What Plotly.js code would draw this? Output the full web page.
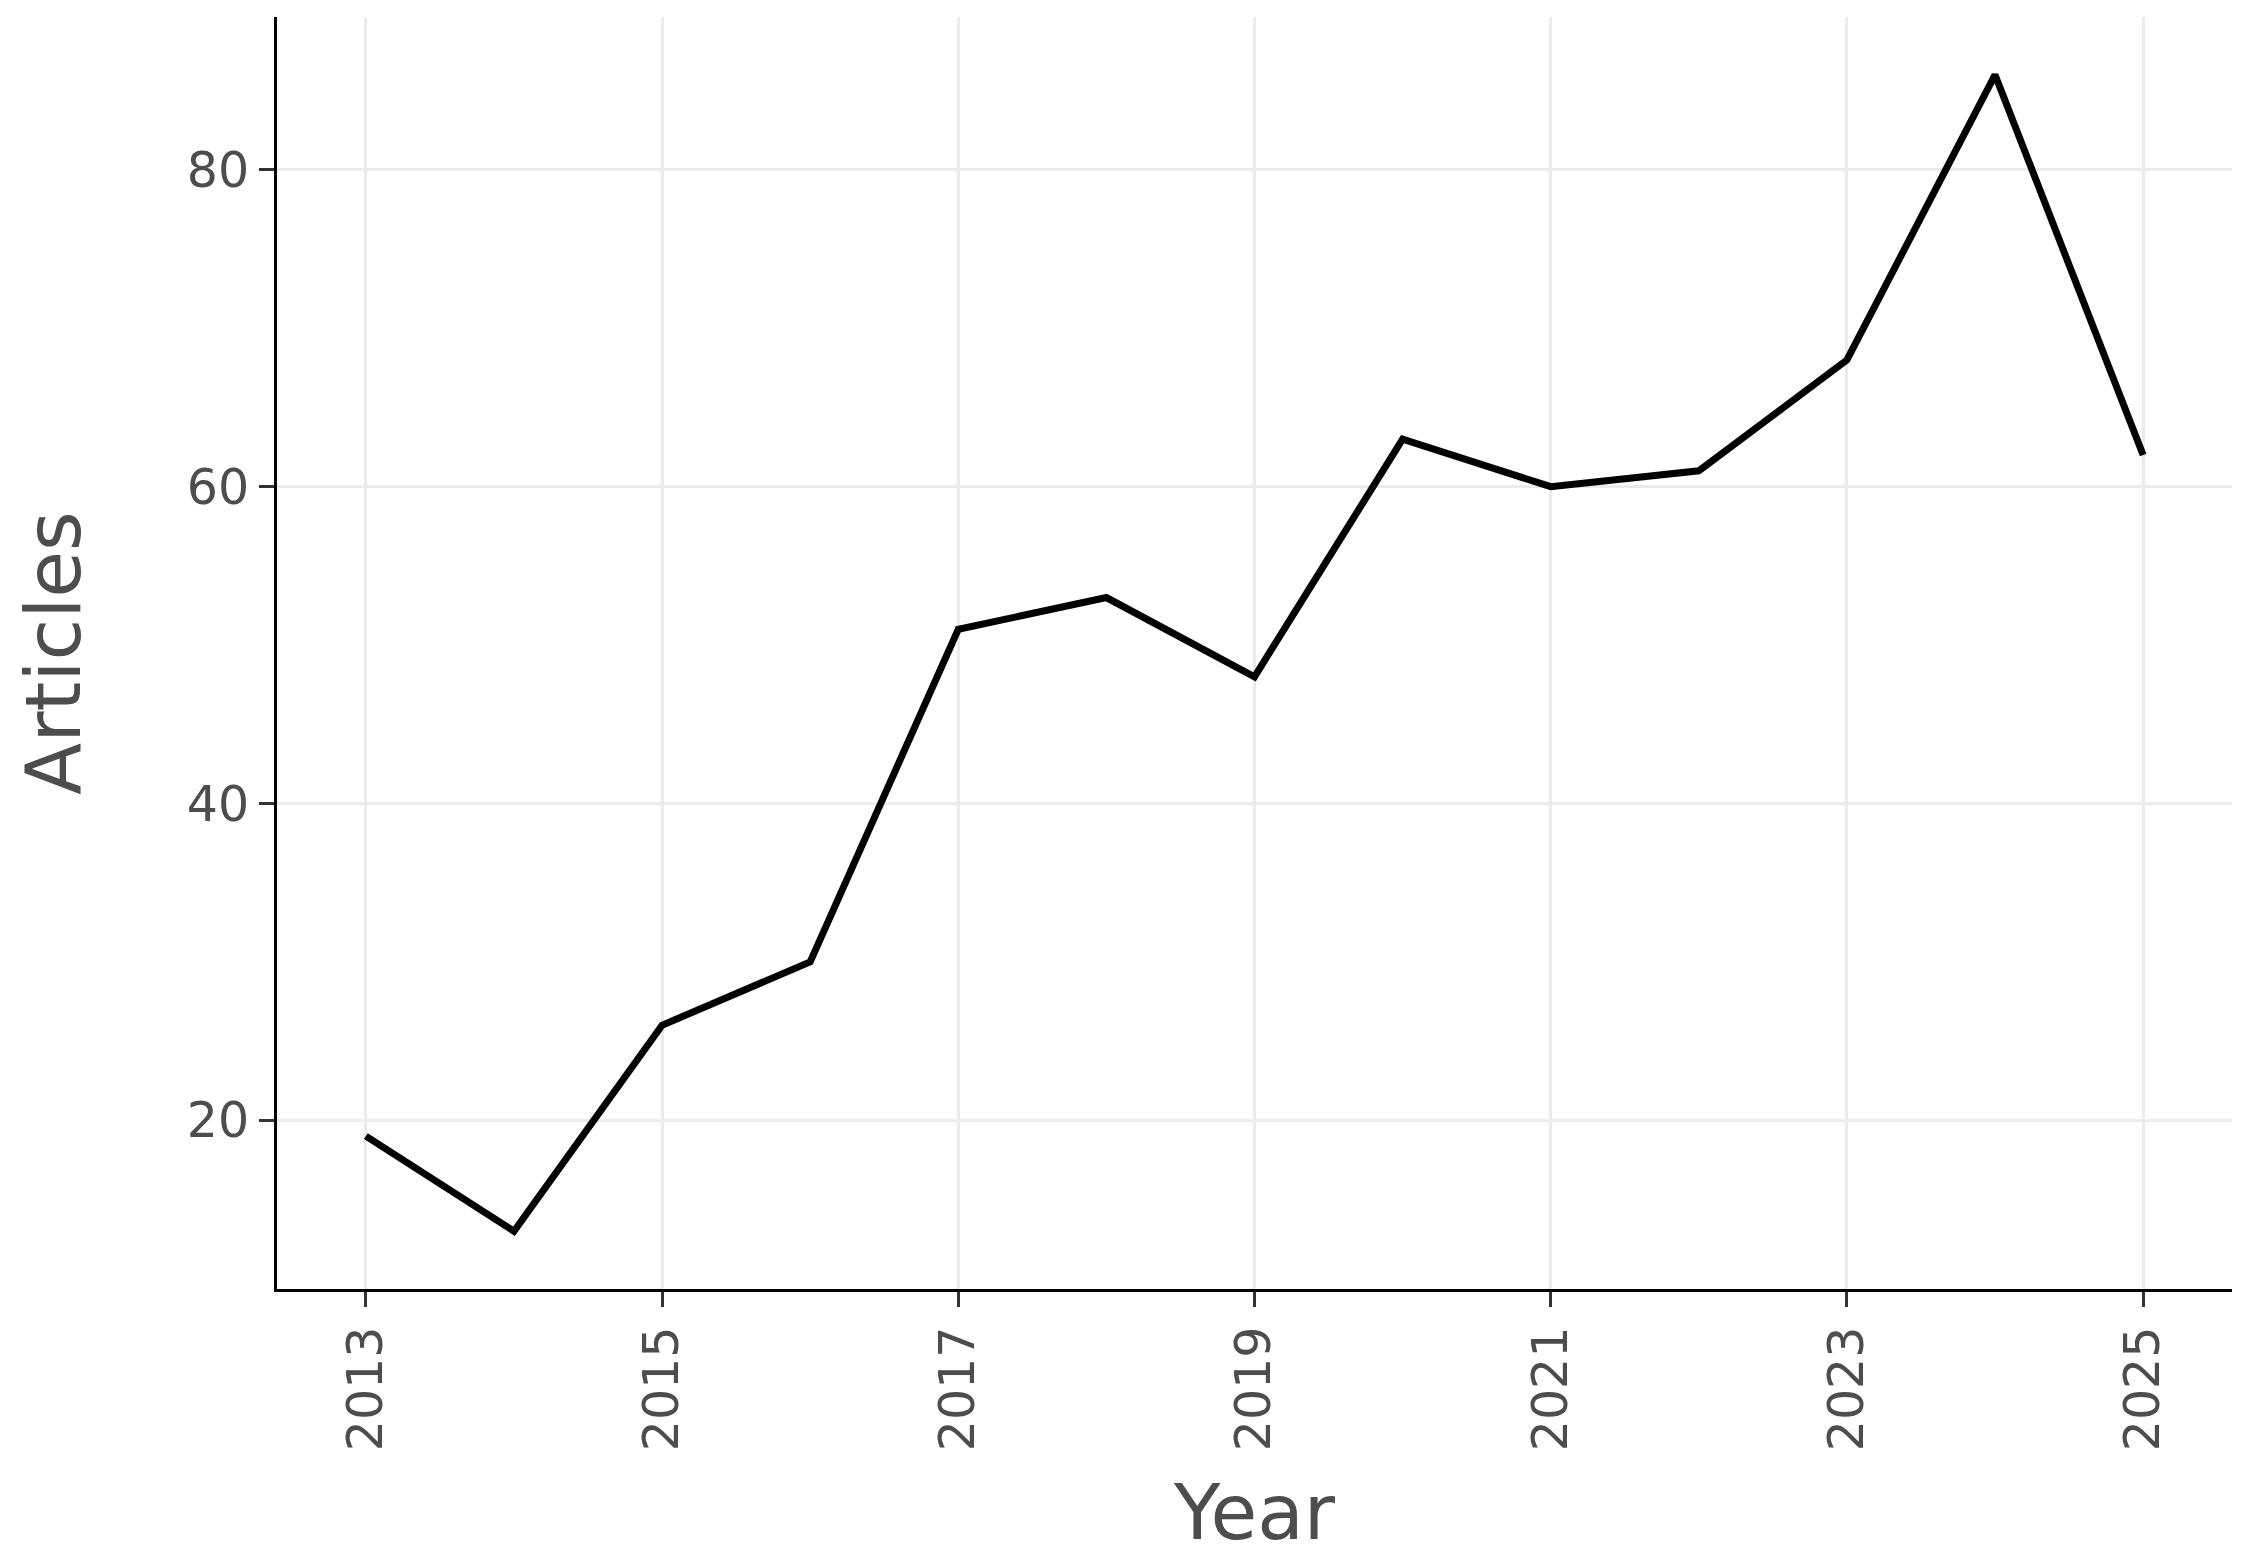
<!DOCTYPE html>
<html>
<head>
<meta charset="utf-8">
<script src="https://cdn.plot.ly/plotly-3.0.1.min.js"></script>
<style>
  html, body { margin: 0; padding: 0; background: #ffffff; }
  #chart { width: 2259px; height: 1564px; }
</style>
</head>
<body>
<div id="chart"></div>
<script>
const years = [2013, 2014, 2015, 2016, 2017, 2018, 2019, 2020, 2021, 2022, 2023, 2024, 2025];
const articles = [19, 13, 26, 30, 51, 53, 48, 63, 60, 61, 68, 86, 62];
const xTickVals = [2013, 2015, 2017, 2019, 2021, 2023, 2025];
const yTickVals = [20, 40, 60, 80];
const xTitle = "Year";
const yTitle = "Articles";

const trace = {
  x: years,
  y: articles,
  type: "scatter",
  mode: "lines",
  line: { color: "#000000", width: 7 },
  hoverinfo: "x+y",
  showlegend: false
};

const fontFamily = "DejaVu Sans, Verdana, sans-serif";

const layout = {
  width: 2259,
  height: 1564,
  paper_bgcolor: "#ffffff",
  plot_bgcolor: "#ffffff",
  margin: { l: 277, r: 27, t: 17, b: 275, pad: 0 },
  font: { family: fontFamily, color: "#4d4d4d" },
  showlegend: false,
  xaxis: {
    range: [2012.4, 2025.6],
    tickmode: "array",
    tickvals: xTickVals,
    ticktext: xTickVals.map(String),
    tickangle: -90,
    tickfont: { family: fontFamily, size: 49, color: "#4d4d4d" },
    ticks: "outside",
    ticklen: 15,
    tickwidth: 3,
    tickcolor: "#333333",
    showgrid: true,
    gridcolor: "#ebebeb",
    gridwidth: 3,
    zeroline: false,
    showline: true,
    linecolor: "#000000",
    linewidth: 3,
    automargin: false,
    title: { text: xTitle, font: { family: fontFamily, size: 76, color: "#4d4d4d" }, standoff: 36 }
  },
  yaxis: {
    range: [9.35, 89.65],
    tickmode: "array",
    tickvals: yTickVals,
    ticktext: yTickVals.map(String),
    tickfont: { family: fontFamily, size: 49, color: "#4d4d4d" },
    ticks: "outside",
    ticklen: 15,
    tickwidth: 3,
    tickcolor: "#333333",
    showgrid: true,
    gridcolor: "#ebebeb",
    gridwidth: 3,
    zeroline: false,
    showline: true,
    linecolor: "#000000",
    linewidth: 3,
    automargin: false,
    title: { text: yTitle, font: { family: fontFamily, size: 76, color: "#4d4d4d" }, standoff: 82 }
  }
};

Plotly.newPlot("chart", [trace], layout, { displayModeBar: false, responsive: false });
</script>
</body>
</html>
